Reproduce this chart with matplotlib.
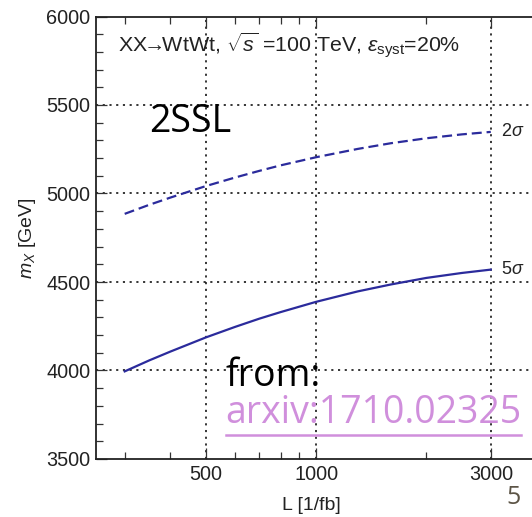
import matplotlib
matplotlib.use("Agg")
import matplotlib.pyplot as plt
from matplotlib.ticker import FixedLocator, NullFormatter

plt.rcParams['font.family'] = ['Liberation Sans', 'DejaVu Sans']
plt.rcParams['mathtext.fontset'] = 'custom'
plt.rcParams['mathtext.rm'] = 'Liberation Sans'
plt.rcParams['mathtext.it'] = 'Liberation Sans:italic'
plt.rcParams['mathtext.bf'] = 'Liberation Sans:bold'

# Data
lumi = [300, 350, 400, 500, 600, 700, 800, 1000, 1300, 1600, 2000, 2500, 3000]
m_2sigma = [4885, 4936, 4977, 5042, 5090, 5128, 5159, 5205, 5252, 5284, 5312, 5334, 5348]
m_5sigma = [3995, 4057, 4107, 4187, 4246, 4293, 4330, 4388, 4447, 4486, 4523, 4551, 4570]
x_major = [500, 1000, 3000]
x_labels = ["500", "1000", "3000"]
x_minor = [300, 400, 600, 700, 800, 900, 2000, 4000]
y_major = [3500, 4000, 4500, 5000, 5500, 6000]
grid_x = [500, 1000, 3000]
grid_y = [4000, 4500, 5000, 5500]

W, H = 532, 517
fig = plt.figure(figsize=(W / 100, H / 100), dpi=100)
fig.patch.set_facecolor('white')

left, right, top, bottom = 95.7, 572.0, 16.5, 459.0
ax = fig.add_axes([left / W, 1 - bottom / H, (right - left) / W, (bottom - top) / H])
ax.set_xscale('log')
ax.set_xlim(250, 5000)
ax.set_ylim(3500, 6000)

curve_color = '#2b2b9c'
ax.plot(lumi, m_2sigma, color=curve_color, lw=1.6, dashes=(4.5, 2.2), solid_capstyle='butt')
ax.plot(lumi, m_5sigma, color=curve_color, lw=1.6)

for gx in grid_x:
    ax.axvline(gx, color='black', lw=1.1, dashes=(1.4, 3.0), zorder=0.5)
for gy in grid_y:
    ax.axhline(gy, color='black', lw=1.1, dashes=(1.4, 3.0), zorder=0.5)

ax.xaxis.set_major_locator(FixedLocator(x_major))
ax.set_xticklabels(x_labels)
ax.xaxis.set_minor_locator(FixedLocator(x_minor))
ax.xaxis.set_minor_formatter(NullFormatter())
ax.yaxis.set_major_locator(FixedLocator(y_major))
ax.yaxis.set_minor_locator(FixedLocator([v for v in range(3500, 6001, 100) if v % 500]))

ax.tick_params(which='both', direction='in', top=True, right=True, color='#333333')
ax.tick_params(which='major', length=8, width=0.9, labelsize=14.3, pad=4, labelcolor='#222222')
ax.tick_params(which='minor', length=5, width=0.9)
for s in ax.spines.values():
    s.set_linewidth(1.3)
    s.set_color('#222222')

ax.set_xlabel("L [1/fb]", fontsize=14, color='#222222')
ax.xaxis.set_label_coords((311 - left) / (right - left), -(505 - bottom) / (bottom - top))
ax.xaxis.label.set_va('center')
ax.set_ylabel(r"$m_X$ [GeV]", fontsize=14, color='#222222', labelpad=6)

ax.text(3000, m_2sigma[-1], r"  2$\sigma$", fontsize=13, va='center', ha='left', color='#222222')
ax.text(3000, m_5sigma[-1], r"  5$\sigma$", fontsize=13, va='center', ha='left', color='#222222')

ax.text((118 - left) / (right - left), 1 - (45 - top) / (bottom - top),
        r"XX$\!$→$\!$WtWt, $\sqrt{s}$ =100 TeV, $\epsilon_{\rm syst}$=20%",
        transform=ax.transAxes, fontsize=15.4, va='center', ha='left', color='#222222')

# slide overlay texts
fig.text(149 / W, 1 - 122 / H, "2SSL", fontfamily='Open Sans', fontsize=27, va='center', ha='left', color='black')
fig.text(225 / W, 1 - 376 / H, "from:", fontfamily='Open Sans', fontsize=27, va='center', ha='left', color='black')
fig.text(225 / W, 1 - 413 / H, "arxiv:1710.02325", fontfamily='Open Sans', fontsize=27,
         va='center', ha='left', color='#d08fdc')
fig.add_artist(plt.Line2D([226 / W, 521 / W], [1 - 435 / H, 1 - 435 / H], color='#d08fdc', lw=1.8,
                          transform=fig.transFigure))
fig.text(514 / W, 1 - 497 / H, "5", fontfamily='Open Sans', fontsize=18, va='center', ha='center', color='#5c5446')

fig.savefig("out.png", dpi=100)
